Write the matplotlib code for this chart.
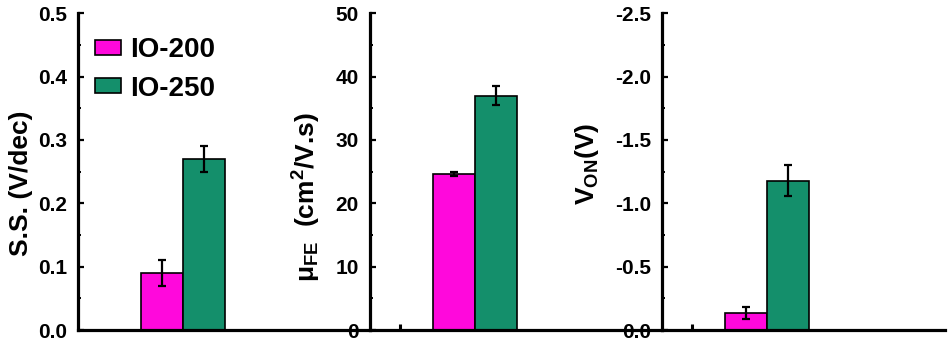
import matplotlib

matplotlib.use("Agg")

import matplotlib.pyplot as plt
from matplotlib.ticker import FormatStrFormatter, MultipleLocator

# data
series = ["IO-200", "IO-250"]
ss_values = [0.09, 0.27]
ss_errors = [0.02, 0.02]
mobility_values = [24.6, 37.0]
mobility_errors = [0.3, 1.55]
von_values = [-0.135, -1.18]
von_errors = [0.05, 0.12]

PINK = "#ff08dc"
GREEN = "#148f6b"
BAR_COLORS = [PINK, GREEN]

plt.rcParams["font.family"] = ["Liberation Sans", "DejaVu Sans"]
plt.rcParams["font.weight"] = "bold"
plt.rcParams["mathtext.fontset"] = "custom"
plt.rcParams["mathtext.rm"] = "Liberation Sans:bold"
plt.rcParams["mathtext.it"] = "Liberation Sans:bold"
plt.rcParams["mathtext.bf"] = "Liberation Sans:bold"
plt.rcParams["axes.unicode_minus"] = False

fig = plt.figure(figsize=(9.5, 3.4), dpi=100)

bottom = 1 - 330 / 340
height = (330 - 13.3) / 340
panels = [
    (78 / 950, 292 / 950),
    (370 / 950, 292 / 950),
    (662 / 950, 283 / 950),
]

X_SPAN = 7.0  # data units across a 292 px panel
bar_x = [2.02, 3.02]


def style(ax, width_px, stub=False):
    for side in ("top", "right"):
        ax.spines[side].set_visible(False)
    for side in ("left", "bottom"):
        ax.spines[side].set_linewidth(2.3)
        ax.spines[side].set_color("black")
    ax.set_xlim(0, X_SPAN * width_px / 292)
    ax.tick_params(axis="y", which="major", direction="in", length=4, width=1.6,
                   labelsize=15, pad=8)
    ax.tick_params(axis="y", which="minor", direction="in", length=2.5, width=1.4)
    if stub:
        ax.set_xticks([0.72])
        ax.tick_params(axis="x", direction="in", length=4, width=2.2, labelbottom=False)
    else:
        ax.set_xticks([])
    for lab in ax.get_yticklabels():
        lab.set_fontweight("bold")


def bars(ax, values, errors):
    ax.bar(bar_x, values, width=1.0, color=BAR_COLORS, edgecolor="black",
           linewidth=1.2, zorder=2)
    ax.errorbar(bar_x, values, yerr=errors, fmt="none", ecolor="black",
                elinewidth=1.6, capsize=3, capthick=1.6, zorder=3)


# panel 1: subthreshold swing
ax1 = fig.add_axes([panels[0][0], bottom, panels[0][1], height])
bars(ax1, ss_values, ss_errors)
ax1.set_ylim(0, 0.5)
ax1.yaxis.set_major_locator(MultipleLocator(0.1))
ax1.yaxis.set_minor_locator(MultipleLocator(0.05))
ax1.yaxis.set_major_formatter(FormatStrFormatter("%.1f"))
style(ax1, 292)
ax1.set_ylabel("S.S. (V/dec)", fontsize=19, fontweight="bold")
ax1.yaxis.set_label_coords(-0.154, 0.464)
handles = [plt.Rectangle((0, 0), 1, 1, facecolor=c, edgecolor="black", linewidth=1.2)
           for c in BAR_COLORS]
ax1.legend(handles, series, loc="upper left", bbox_to_anchor=(0.02, 0.96),
           frameon=False, prop={"size": 20, "weight": "bold"},
           handlelength=0.95, handleheight=0.45, handletextpad=0.3,
           labelspacing=0.45, borderaxespad=0)

# panel 2: field-effect mobility
ax2 = fig.add_axes([panels[1][0], bottom, panels[1][1], height])
bars(ax2, mobility_values, mobility_errors)
ax2.set_ylim(0, 50)
ax2.yaxis.set_major_locator(MultipleLocator(10))
ax2.yaxis.set_minor_locator(MultipleLocator(5))
ax2.yaxis.set_major_formatter(FormatStrFormatter("%d"))
style(ax2, 292, stub=True)
ax2.set_ylabel(r"$\mu_{FE}$  (cm$^{2}$/V.s)", fontsize=19, fontweight="bold")
ax2.yaxis.set_label_coords(-0.16, 0.42)

# panel 3: turn-on voltage (axis runs negative upward)
ax3 = fig.add_axes([panels[2][0], bottom, panels[2][1], height])
bars(ax3, von_values, von_errors)
ax3.set_ylim(0, -2.5)
ax3.yaxis.set_major_locator(MultipleLocator(0.5))
ax3.yaxis.set_minor_locator(MultipleLocator(0.25))
ax3.yaxis.set_major_formatter(FormatStrFormatter("%.1f"))
style(ax3, 283, stub=True)
ax3.set_ylabel(r"V$_{ON}$(V)", fontsize=19, fontweight="bold")
ax3.yaxis.set_label_coords(-0.216, 0.524)

fig.savefig("out.png", dpi=100)
plt.close(fig)
